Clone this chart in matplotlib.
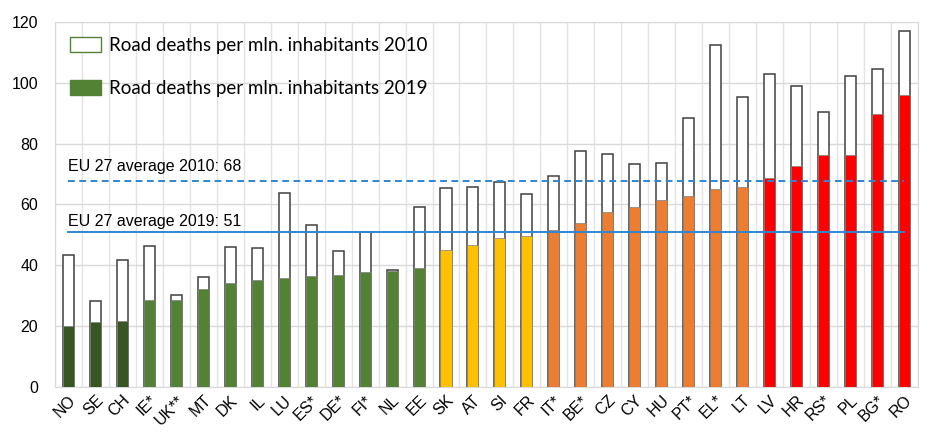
import matplotlib
matplotlib.use("Agg")
import matplotlib.pyplot as plt
from matplotlib.patches import Patch

countries = ["NO", "SE", "CH", "IE*", "UK**", "MT", "DK", "IL", "LU", "ES*", "DE*", "FI*",
             "NL", "EE", "SK", "AT", "SI", "FR", "IT*", "BE*", "CZ", "CY", "HU", "PT*",
             "EL*", "LT", "LV", "HR", "RS*", "PL", "BG*", "RO"]
deaths_2010 = [43.4, 28.3, 41.8, 46.5, 30.4, 36.2, 46.0, 45.8, 63.7, 53.3, 44.6, 50.8,
               38.6, 59.2, 65.4, 65.9, 67.4, 63.6, 69.4, 77.5, 76.7, 73.2, 73.8, 88.5,
               112.5, 95.2, 102.8, 98.9, 90.4, 102.3, 104.6, 117.1]
deaths_2019 = [20.0, 21.4, 21.7, 28.6, 28.6, 32.2, 34.2, 35.3, 35.7, 36.6, 36.8, 37.8,
               38.0, 39.2, 45.0, 46.8, 49.0, 49.8, 51.6, 54.0, 57.6, 59.3, 61.4, 62.7,
               65.0, 65.6, 68.6, 72.8, 76.4, 76.4, 89.6, 96.0]
groups = ["non-EU best"] * 3 + ["good"] * 11 + ["average"] * 4 + ["below"] * 8 + ["worst"] * 6
eu_avg_2010 = 67.6
eu_avg_2019 = 51
avg_labels = ["EU 27 average 2010: 68", "EU 27 average 2019: 51"]
legend_labels = ["Road deaths per mln. inhabitants 2010", "Road deaths per mln. inhabitants 2019"]

group_colors = {"non-EU best": "#375623", "good": "#548235", "average": "#FFC000",
                "below": "#ED7D31", "worst": "#FF0000"}

plt.rcParams['font.family'] = ['Liberation Sans', 'DejaVu Sans']

fig = plt.figure(figsize=(9.4, 4.45), dpi=100)
ax = fig.add_axes([0.0585, 0.1303, 0.918, 0.8203])

x = list(range(len(countries)))
w = 0.41
ax.bar(x, deaths_2010, width=w, facecolor="white", edgecolor="#404040", linewidth=1.1, zorder=2)
ax.bar(x, deaths_2019, width=w, color=[group_colors[g] for g in groups],
       edgecolor="#808080", linewidth=0.5, zorder=3)

line_color = "#2F86D4"
ax.plot([0, len(countries) - 1], [eu_avg_2010] * 2, color=line_color, lw=1.4,
        linestyle=(0, (3.5, 2.3)), zorder=4)
ax.plot([0, len(countries) - 1], [eu_avg_2019] * 2, color=line_color, lw=1.4, zorder=4)
ax.text(0.0, 72.4, avg_labels[0], fontsize=11.5, va="center", ha="left", zorder=5)
ax.text(0.0, 54.3, avg_labels[1], fontsize=11.5, va="center", ha="left", zorder=5)

ax.set_xlim(-0.5, len(countries) - 0.5)
ax.set_ylim(0, 120)
ax.set_yticks(range(0, 121, 20))
ax.set_xticks(x)
ax.set_xticklabels(countries, rotation=45, ha="right", rotation_mode="anchor")
ax.set_xticks([i + 0.5 for i in range(-1, len(countries))], minor=True)
ax.tick_params(axis="both", which="both", length=0, labelsize=11.5)
ax.tick_params(axis="y", pad=12)
ax.tick_params(axis="x", pad=4)
ax.grid(axis="y", color="#D9D9D9", lw=1.0, zorder=0)
ax.grid(axis="x", which="minor", color="#E3E3E3", lw=1.0, zorder=0)
for s in ax.spines.values():
    s.set_color("#D9D9D9")

handles = [Patch(facecolor="white", edgecolor="#548235", linewidth=1.0),
           Patch(facecolor="#548235", edgecolor="#548235")]
leg = ax.legend(handles, legend_labels, loc="upper left", bbox_to_anchor=(0.0, 1.0),
                frameon=False, prop={"family": ["Lato", "DejaVu Sans"], "size": 13.5},
                handlelength=1.65, handleheight=0.85, labelspacing=1.38, handletextpad=0.43,
                borderaxespad=0.0, borderpad=0.8)
leg.set_zorder(6)

fig.savefig("out.png", dpi=100)
